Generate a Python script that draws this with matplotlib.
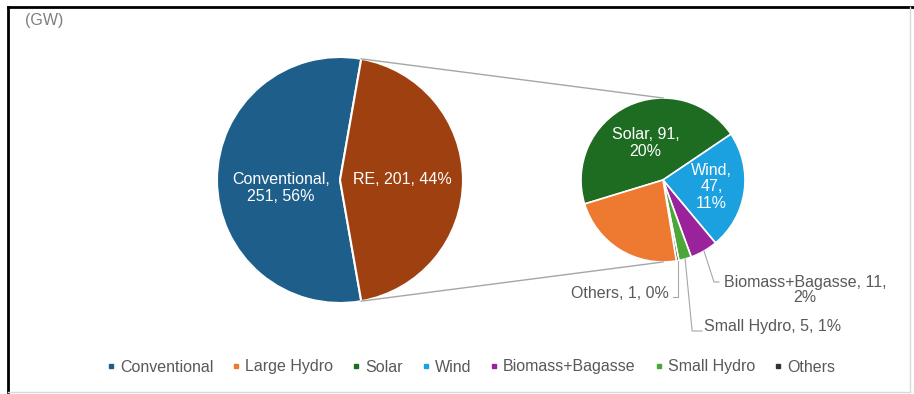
import numpy as np
import matplotlib.pyplot as plt
from matplotlib.lines import Line2D

plt.rcParams['font.family'] = ['Liberation Sans', 'DejaVu Sans']

# main pie
main_names = ['Conventional', 'RE']
main_vals = [251, 201]
main_pct = [56, 44]
main_colors = ['#1D5E8B', '#9E400F']

# breakdown of RE
sub_names = ['Solar', 'Wind', 'Biomass+Bagasse', 'Small Hydro', 'Others', 'Large Hydro']
sub_vals = [91, 47, 11, 5, 1, 46]
sub_pct = [20, 11, 2, 1, 0, None]
sub_colors = ['#1E6B22', '#1BA0E0', '#9A229A', '#4CA63A', '#333333', '#EE7A32']

legend_names = ['Conventional', 'Large Hydro', 'Solar', 'Wind', 'Biomass+Bagasse', 'Small Hydro', 'Others']
legend_colors = ['#1D5E8B', '#EE7A32', '#1E6B22', '#1BA0E0', '#9A229A', '#4CA63A', '#333333']

W, H = 914, 394
fig = plt.figure(figsize=(W / 100, H / 100), dpi=100)
ax = fig.add_axes([0, 0, 1, 1])
ax.set_xlim(0, W)
ax.set_ylim(0, H)
ax.axis('off')

c1, r1 = (340, 214), 123
c2, r2 = (663, 214), 82
grey = '#595959'
fs = 11.5

re_share = main_vals[1] / sum(main_vals)
w1, _ = ax.pie(main_vals, colors=main_colors, center=c1, radius=r1,
               startangle=180 * re_share, counterclock=True,
               wedgeprops=dict(edgecolor='white', linewidth=1.5), frame=True)
w2, _ = ax.pie(sub_vals, colors=sub_colors, center=c2, radius=r2,
               startangle=197, counterclock=False,
               wedgeprops=dict(edgecolor='white', linewidth=1.2), frame=True)
ax.set_xlim(0, W)
ax.set_ylim(0, H)
ax.axis('off')


def polar(c, r, ang):
    a = np.deg2rad(ang)
    return c[0] + r * np.cos(a), c[1] + r * np.sin(a)


# connector lines between the pies
re_w = w1[1]
p_top = polar(c1, r1, re_w.theta1)
p_bot = polar(c1, r1, re_w.theta2)
if p_top[1] < p_bot[1]:
    p_top, p_bot = p_bot, p_top
ax.plot([p_top[0], c2[0]], [p_top[1], c2[1] + r2], color='#A6A6A6', lw=1)
ax.plot([p_bot[0], c2[0]], [p_bot[1], c2[1] - r2], color='#A6A6A6', lw=1)

# inside labels
mid = lambda w: (w.theta1 + w.theta2) / 2
x, y = polar(c1, r1 * 0.48, mid(w1[0]))
ax.text(x, y - 8, f'{main_names[0]},\n{main_vals[0]}, {main_pct[0]}%', color='white',
        ha='center', va='center', fontsize=fs)
x, y = polar(c1, r1 * 0.51, mid(w1[1]))
ax.text(x, y, f'{main_names[1]}, {main_vals[1]}, {main_pct[1]}%', color='white',
        ha='center', va='center', fontsize=fs)
x, y = polar(c2, r2 * 0.5, mid(w2[0]))
ax.text(x, y, f'{sub_names[0]}, {sub_vals[0]},\n{sub_pct[0]}%', color='white',
        ha='center', va='center', fontsize=fs)
x, y = polar(c2, r2 * 0.6, mid(w2[1]))
ax.text(x, y, f'{sub_names[1]},\n{sub_vals[1]},\n{sub_pct[1]}%', color='white',
        ha='center', va='center', fontsize=fs, linespacing=1.1)

# outside labels with leader lines
lc = '#A6A6A6'
# Biomass+Bagasse
ex, ey = polar(c2, r2, mid(w2[2]))
ty = H - 290
ax.plot([ex, ex + 10, ex + 15], [ey, ty + 8, ty + 8], color=lc, lw=0.8)
ax.text(805, ty, f'{sub_names[2]}, {sub_vals[2]},\n{sub_pct[2]}%', color=grey,
        ha='center', va='center', fontsize=fs, linespacing=1.0)
# Small Hydro
ex, ey = polar(c2, r2, mid(w2[3]))
ty = H - 327
ax.plot([ex, ex + 7, ex + 17], [ey, ty - 4, ty - 4], color=lc, lw=0.8)
ax.text(ex + 19, ty, f'{sub_names[3]}, {sub_vals[3]}, {sub_pct[3]}%', color=grey,
        ha='left', va='center', fontsize=fs)
# Others
ex, ey = polar(c2, r2, mid(w2[4]))
ty = H - 294
ax.plot([ex, ex, ex - 5], [ey, ty - 3, ty - 3], color=lc, lw=0.8)
ax.text(ex - 9, ty, f'{sub_names[4]}, {sub_vals[4]}, {sub_pct[4]}%', color=grey,
        ha='right', va='center', fontsize=fs)

ax.text(25, H - 20, '(GW)', color='#7F7F7F', fontsize=fs, ha='left', va='center')

handles = [Line2D([], [], marker='s', ls='', color=c, markersize=3.5) for c in legend_colors]
fig.legend(handles, legend_names, ncol=7, loc='center', bbox_to_anchor=(471 / W, 1 - 367 / H),
           frameon=False, fontsize=fs, labelcolor=grey, handlelength=0.5,
           handletextpad=0.3, columnspacing=1.2)

# chart border
fig.add_artist(Line2D([8 / W, 8 / W], [2 / H, 1 - 7 / H], color='black', lw=2))
fig.add_artist(Line2D([8 / W, 1], [1 - 7 / H, 1 - 7 / H], color='black', lw=2))
fig.add_artist(Line2D([910 / W, 910 / W], [2 / H, 1 - 7 / H], color='#D9D9D9', lw=1))
fig.add_artist(Line2D([8 / W, 910 / W], [2 / H, 2 / H], color='#D9D9D9', lw=1))

fig.savefig('out.png', dpi=100)
